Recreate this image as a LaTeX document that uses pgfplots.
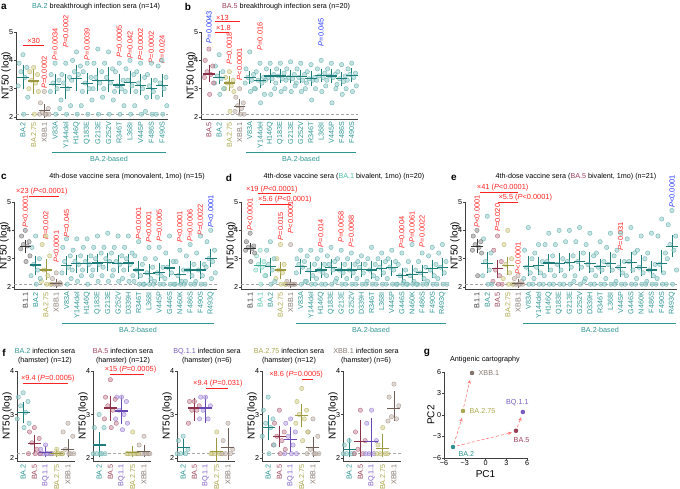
\documentclass[border=0pt]{standalone}
\usepackage{fontspec}
\setmainfont{Liberation Sans}
\usepackage{pgfplots}
\usepackage{pgfplotstable}
\pgfplotsset{compat=1.18}
\usetikzlibrary{arrows.meta}

% text colours
\definecolor{tT}{HTML}{2E9592}\definecolor{oT}{HTML}{ABA74B}\definecolor{gT}{HTML}{857870}
\definecolor{mT}{HTML}{9A4058}\definecolor{kT}{HTML}{333333}\definecolor{pT}{HTML}{7A5CC4}
\definecolor{lT}{HTML}{4FBFA8}
% mean colours
\definecolor{tM}{HTML}{1E7D7A}\definecolor{oM}{HTML}{9C9840}\definecolor{gM}{HTML}{6E5E56}
\definecolor{mM}{HTML}{8A3048}\definecolor{kM}{HTML}{333333}\definecolor{pM}{HTML}{6A48B4}
\definecolor{lM}{HTML}{3FAE98}
% dot edge / fill
\definecolor{tE}{HTML}{5AAAA7}\definecolor{tF}{HTML}{9FD0CE}
\definecolor{oE}{HTML}{B5B060}\definecolor{oF}{HTML}{D8D59A}
\definecolor{gE}{HTML}{A09088}\definecolor{gF}{HTML}{C9BDB6}
\definecolor{mE}{HTML}{A8566C}\definecolor{mF}{HTML}{CF9AA8}
\definecolor{kE}{HTML}{666666}\definecolor{kF}{HTML}{9A9A9A}
\definecolor{pE}{HTML}{8F73CC}\definecolor{pF}{HTML}{BCAAE6}
\definecolor{lE}{HTML}{6CC9B5}\definecolor{lF}{HTML}{B2E3D8}
\definecolor{pR}{HTML}{FF2222}\definecolor{pB}{HTML}{2233FF}

\newcommand\fs{\fontsize{7.2}{8.6}\selectfont}
\newcommand\pvf{\fontsize{7.4}{8}\selectfont}
\newcommand\Lt[1]{\textcolor{tT}{#1}}

\tikzset{pvs/.style={rotate=90, anchor=west, inner sep=0pt, font=\pvf}}

\pgfplotsset{
  base/.style={
    scale only axis, clip=false, anchor=south west,
    axis x line*=bottom, axis y line*=left,
    axis line style={line width=0.55pt, black!75},
    every tick/.style={line width=0.5pt, black!75},
    tick align=outside, major tick length=1.8pt,
    tick label style={font=\fs, inner sep=0.8pt},
    label style={font=\fs},
    ylabel near ticks, ylabel style={inner sep=0pt}, ylabel shift=-2.5pt,
    /pgf/number format/assume math mode=true,
  },
  nt/.style={base, xtick style={draw=none}, xticklabel style={rotate=90, anchor=east},
     ymin=1.92, ymax=5, ytick={2,3,4,5}, y=28.33pt, ylabel={NT50 (log)}},
  ntf/.style={base, xtick style={draw=none}, xticklabel style={rotate=90, anchor=east},
     ymin=1.92, ymax=4, ytick={2,3,4}, y=43.5pt, x=11.2pt, xmin=-0.55, xmax=4.6,
     xtick={0,...,4},
     xticklabels={\textcolor{tT}{BA.2},\textcolor{mT}{BA.5},\textcolor{pT}{BQ.1.1},\textcolor{oT}{BA.2.75},\textcolor{gT}{XBB.1}},
     ylabel={NT50 (log)}},
  dots/.style={only marks, scatter, scatter src=explicit symbolic, mark size=2.2pt,
     scatter/classes={
       t={mark=*, draw=tE, fill=tF, fill opacity=0.6, draw opacity=0.8},
       o={mark=*, draw=oE, fill=oF, fill opacity=0.6, draw opacity=0.8},
       g={mark=*, draw=gE, fill=gF, fill opacity=0.6, draw opacity=0.8},
       m={mark=*, draw=mE, fill=mF, fill opacity=0.6, draw opacity=0.8},
       k={mark=*, draw=kE, fill=kF, fill opacity=0.6, draw opacity=0.8},
       p={mark=*, draw=pE, fill=pF, fill opacity=0.6, draw opacity=0.8},
       l={mark=*, draw=lE, fill=lF, fill opacity=0.6, draw opacity=0.8}}},
}

% #1 table, #2 horizontal spread factor
\newcommand\dotset[2]{%
  \addplot[dots] table[x expr=\thisrow{x}, y=d1, meta=c]{#1};
  \addplot[dots] table[x expr=\thisrow{x}-0.27*#2, y=d2, meta=c]{#1};
  \addplot[dots] table[x expr=\thisrow{x}+0.27*#2, y=d3, meta=c]{#1};
  \addplot[dots] table[x expr=\thisrow{x}-0.14*#2, y=d4, meta=c]{#1};
  \addplot[dots] table[x expr=\thisrow{x}+0.14*#2, y=d5, meta=c]{#1};
  \addplot[dots] table[x expr=\thisrow{x}-0.33*#2, y=d6, meta=c]{#1};
  \addplot[dots] table[x expr=\thisrow{x}+0.33*#2, y=d7, meta=c]{#1};
  \addplot[dots] table[x expr=\thisrow{x}+0.05*#2, y=d8, meta=c]{#1};
}
\newcommand\msz{5.8pt}
\newcommand\csz{3.4pt}
% #1 table, #2 x range (a:b), #3 colour
\newcommand\meanset[3]{%
  \addplot[only marks, mark=-, mark size=\msz, color=#3, mark options={line width=1.2pt, color=#3},
    restrict x to domain=#2,
    error bars/.cd, y dir=both, y explicit,
    error bar style={line width=0.75pt, color=#3},
    error mark options={line width=0.75pt, color=#3, mark size=\csz}]
    table[x=x, y=m, y error plus=ep, y error minus=em]{#1};
}
\newcommand\pv[3]{\node[pvs,text=pR] at (axis cs:#1,#2) {{\itshape P}#3};}
\newcommand\pvb[3]{\node[pvs,text=pB] at (axis cs:#1,#2) {{\itshape P}#3};}
\newcommand\brk[6]{%
  \draw[pR, line width=0.5pt] (axis cs:#1,#3) -- (axis cs:#2,#3);
  \node[text=pR, font=\pvf, anchor=#5, inner sep=0.8pt] at (axis cs:#4,#3) {#6};}

% ---------------- data: x mean err+ err- class dots ----------------
\pgfplotstableread{
x m ep em c d1 d2 d3 d4 d5 d6 d7 d8
0 3.40 0.33 0.30 t 4.2 3.9 3.75 3.6 3.4 3.1 2.7 2.1
1 3.27 0.32 0.32 o 3.75 3.6 3.5 3.3 3.2 3.0 2.9 2.1
2 2.22 0.12 0.12 g 2.9 2.5 2.3 2.15 2.1 2.1 2.1 2.1
3 3.15 0.25 0.20 t 3.9 3.5 3.3 3.2 3.0 2.9 2.3 2.1
4 3.05 0.35 0.30 t 3.9 3.5 3.4 3.2 3.0 2.6 2.4 2.1
5 3.37 0.33 0.32 t 4.3 4.0 3.8 3.6 3.5 3.3 2.4 2.1
6 3.17 0.28 0.22 t 3.9 3.6 3.4 3.2 3.0 2.9 2.6 2.1
7 3.30 0.30 0.25 t 4.4 3.9 3.6 3.4 3.2 3.0 2.7 2.1
8 3.30 0.35 0.30 t 4.3 3.9 3.7 3.4 3.2 3.0 2.6 2.1
9 3.13 0.27 0.18 t 3.9 3.6 3.3 3.1 3.0 2.9 2.4 2.1
10 3.23 0.27 0.28 t 4.0 3.7 3.5 3.3 3.1 2.9 2.4 2.1
11 3.12 0.28 0.22 t 3.9 3.6 3.4 3.2 3.0 2.9 2.2 2.1
12 3.00 0.25 0.25 t 3.9 3.5 3.3 3.1 2.9 2.7 2.1 2.1
13 3.12 0.28 0.28 t 4.0 3.8 3.4 3.2 3.0 2.7 2.4 2.1
}\tA
\pgfplotstableread{
x m ep em c d1 d2 d3 d4 d5 d6 d7 d8
0 3.52 0.20 0.17 m 4.4 4.0 3.8 3.6 3.5 3.4 3.2 2.8
1 3.40 0.10 0.12 t 4.2 3.8 3.6 3.45 3.35 3.2 3.0 2.8
2 3.20 0.12 0.15 o 3.6 3.4 3.3 3.2 3.1 3.0 2.9 2.2
3 2.38 0.15 0.20 g 3.0 2.7 2.5 2.4 2.3 2.2 2.1 2.1
4 3.40 0.12 0.12 t 4.3 3.7 3.5 3.4 3.3 3.2 3.0 2.9
5 3.28 0.15 0.15 t 3.9 3.6 3.4 3.3 3.2 3.0 2.8 2.5
6 3.45 0.13 0.13 t 3.9 3.7 3.5 3.4 3.35 3.3 3.0 2.8
7 3.45 0.13 0.13 t 3.9 3.7 3.55 3.45 3.35 3.2 3.0 2.9
8 3.43 0.12 0.12 t 3.95 3.7 3.5 3.4 3.35 3.3 3.1 2.9
9 3.43 0.12 0.12 t 3.9 3.7 3.5 3.4 3.3 3.2 3.0 2.9
10 3.37 0.12 0.15 t 3.85 3.6 3.4 3.35 3.3 3.2 3.0 2.6
11 3.47 0.12 0.12 t 4.0 3.7 3.55 3.45 3.4 3.3 3.1 2.9
12 3.45 0.12 0.12 t 3.9 3.7 3.5 3.45 3.4 3.3 3.0 2.5
13 3.35 0.12 0.12 t 3.85 3.6 3.45 3.35 3.25 3.15 3.0 2.8
14 3.48 0.12 0.12 t 3.9 3.7 3.55 3.5 3.4 3.3 3.1 2.9
}\tB
\pgfplotstableread{
x m ep em c d1 d2 d3 d4 d5 d6 d7 d8
0 3.42 0.12 0.10 k 4.0 3.8 3.6 3.5 3.45 3.35 3.1 2.9
1 2.78 0.20 0.25 t 3.8 3.4 3.0 2.8 2.6 2.4 2.3 2.1
2 2.60 0.28 0.22 o 3.8 3.5 3.1 2.6 2.4 2.2 2.1 2.1
3 2.12 0.05 0.03 g 2.5 2.3 2.15 2.1 2.1 2.1 2.1 2.1
4 2.75 0.22 0.20 t 3.7 3.4 3.1 2.9 2.7 2.5 2.3 2.1
5 2.82 0.18 0.20 t 3.7 3.3 3.1 2.9 2.8 2.6 2.4 2.2
6 2.82 0.20 0.20 t 3.7 3.4 3.1 2.9 2.8 2.6 2.4 2.1
7 2.85 0.20 0.20 t 3.8 3.4 3.2 3.0 2.8 2.6 2.4 2.2
8 2.88 0.20 0.20 t 3.9 3.4 3.2 3.0 2.9 2.7 2.4 2.2
9 2.82 0.20 0.20 t 3.8 3.4 3.1 2.9 2.8 2.6 2.3 2.2
10 2.85 0.20 0.20 t 3.8 3.4 3.2 3.0 2.8 2.6 2.4 2.2
11 2.60 0.20 0.20 t 3.6 3.1 2.8 2.6 2.4 2.2 2.1 2.1
12 2.48 0.20 0.20 t 3.4 3.0 2.7 2.5 2.3 2.1 2.1 2.1
13 2.52 0.20 0.20 t 3.4 3.0 2.7 2.5 2.4 2.2 2.1 2.1
14 2.67 0.20 0.20 t 3.8 3.2 2.9 2.7 2.5 2.3 2.1 2.1
15 2.43 0.20 0.20 t 3.3 2.9 2.6 2.4 2.2 2.1 2.1 2.1
16 2.60 0.20 0.20 t 3.5 3.1 2.8 2.6 2.4 2.2 2.1 2.1
17 2.60 0.20 0.20 t 3.8 3.2 2.8 2.6 2.4 2.2 2.1 2.1
18 3.02 0.20 0.20 t 4.0 3.6 3.3 3.0 2.9 2.7 2.5 2.3
}\tC
\pgfplotstableread{
x m ep em c d1 d2 d3 d4 d5 d6 d7 d8
0 3.35 0.08 0.08 k 3.9 3.6 3.45 3.4 3.35 3.3 3.2 2.9
1 2.75 0.15 0.15 l 3.3 3.1 2.9 2.8 2.7 2.6 2.4 2.1
2 2.72 0.20 0.20 t 3.6 3.3 3.0 2.8 2.6 2.4 2.2 2.1
3 2.60 0.15 0.20 o 3.5 3.0 2.8 2.6 2.5 2.3 2.1 2.1
4 2.10 0.08 0.02 g 3.5 2.2 2.1 2.1 2.1 2.1 2.1 2.1
5 2.72 0.15 0.15 t 3.3 3.0 2.9 2.8 2.7 2.5 2.2 2.1
6 2.55 0.20 0.20 t 3.3 3.1 2.8 2.6 2.4 2.2 2.1 2.1
7 2.60 0.15 0.15 t 3.3 3.0 2.8 2.6 2.5 2.3 2.1 2.1
8 2.70 0.17 0.17 t 3.4 3.1 2.9 2.8 2.6 2.4 2.2 2.1
9 2.60 0.15 0.15 t 3.3 3.0 2.8 2.6 2.5 2.3 2.1 2.1
10 2.60 0.15 0.15 t 3.2 3.0 2.8 2.6 2.5 2.3 2.1 2.1
11 2.62 0.15 0.15 t 3.1 2.9 2.8 2.7 2.5 2.3 2.1 2.1
12 2.60 0.20 0.20 t 3.4 3.0 2.8 2.6 2.4 2.2 2.1 2.1
13 2.65 0.18 0.18 t 3.2 3.0 2.9 2.7 2.5 2.3 2.1 2.1
14 2.68 0.17 0.17 t 3.3 3.0 2.9 2.7 2.6 2.3 2.1 2.1
15 2.40 0.15 0.15 t 3.2 2.8 2.6 2.4 2.2 2.1 2.1 2.1
16 2.45 0.20 0.15 t 3.5 2.9 2.6 2.4 2.2 2.1 2.1 2.1
17 2.50 0.15 0.15 t 3.2 2.9 2.7 2.5 2.3 2.1 2.1 2.1
18 2.65 0.20 0.20 t 3.4 3.1 2.8 2.6 2.4 2.2 2.1 2.1
19 2.70 0.20 0.20 t 3.5 3.2 2.9 2.7 2.5 2.3 2.1 2.1
}\tD
\pgfplotstableread{
x m ep em c d1 d2 d3 d4 d5 d6 d7 d8
0 3.42 0.15 0.10 k 4.0 3.8 3.6 3.5 3.4 3.3 3.2 2.4
1 2.82 0.30 0.20 t 4.5 3.7 3.2 2.9 2.6 2.4 2.1 2.1
2 2.65 0.20 0.20 m 3.8 3.3 2.9 2.6 2.4 2.2 2.1 2.1
3 2.75 0.20 0.20 o 4.0 3.5 3.0 2.8 2.5 2.3 2.1 2.1
4 2.12 0.05 0.03 g 2.4 2.3 2.2 2.1 2.1 2.1 2.1 2.1
5 2.72 0.25 0.20 t 4.1 3.3 3.0 2.7 2.5 2.3 2.1 2.1
6 2.75 0.20 0.20 t 3.5 3.2 2.9 2.7 2.5 2.3 2.1 2.1
7 2.85 0.20 0.20 t 3.9 3.5 3.1 2.9 2.6 2.4 2.1 2.1
8 2.82 0.25 0.20 t 4.0 3.5 3.0 2.8 2.6 2.4 2.1 2.1
9 2.87 0.20 0.20 t 4.0 3.6 3.1 2.9 2.7 2.4 2.2 2.1
10 2.90 0.25 0.20 t 4.1 3.6 3.2 2.9 2.7 2.4 2.2 2.1
11 2.82 0.30 0.20 t 3.9 3.5 3.1 2.8 2.6 2.3 2.1 2.1
12 2.72 0.15 0.15 t 3.6 3.2 2.9 2.7 2.6 2.4 2.1 2.1
13 2.82 0.30 0.20 t 3.9 3.4 3.1 2.8 2.6 2.3 2.1 2.1
14 2.68 0.20 0.20 t 3.9 3.3 2.9 2.7 2.5 2.2 2.1 2.1
15 2.88 0.25 0.25 t 4.1 3.7 3.2 2.9 2.6 2.4 2.1 2.1
16 2.70 0.30 0.20 t 3.8 3.3 3.0 2.7 2.5 2.3 2.1 2.1
17 2.60 0.20 0.15 t 3.9 3.2 2.8 2.6 2.4 2.2 2.1 2.1
18 2.82 0.35 0.20 t 4.4 3.8 3.2 2.8 2.5 2.3 2.1 2.1
19 3.42 0.30 0.25 t 4.7 4.2 3.8 3.5 3.3 3.0 2.6 2.1
}\tE
\pgfplotstableread{
x m ep em c d1 d2 d3 d4 d5 d6 d7 d8
0 3.05 0.15 0.15 t 3.5 3.4 3.3 3.2 3.05 2.9 2.8 2.7
1 2.33 0.12 0.12 m 2.7 2.6 2.45 2.35 2.2 2.1 2.1 2.1
2 2.13 0.05 0.03 p 2.3 2.2 2.1 2.1 2.1 2.1 2.1 2.1
3 2.10 0.03 0.00 o 2.2 2.1 2.1 2.1 2.1 2.1 2.1 2.1
4 2.20 0.15 0.10 g 2.8 2.6 2.5 2.2 2.1 2.1 2.1 2.1
}\tFa
\pgfplotstableread{
x m ep em c d1 d2 d3 d4 d5 d6 d7 d8
0 2.30 0.20 0.20 t 3.0 2.7 2.7 2.1 2.1 2.1 2.1 2.1
1 3.15 0.20 0.20 m 3.8 3.4 3.35 3.2 3.1 2.9 2.8 2.7
2 3.08 0.25 0.20 p 3.4 3.4 3.3 3.1 3.0 2.9 2.8 2.65
3 2.12 0.08 0.02 o 2.6 2.1 2.1 2.1 2.1 2.1 2.1 2.1
4 2.15 0.07 0.05 g 2.5 2.3 2.1 2.1 2.1 2.1 2.1 2.1
}\tFb
\pgfplotstableread{
x m ep em c d1 d2 d3 d4 d5 d6 d7 d8
0 2.25 0.10 0.10 t 2.5 2.4 2.2 2.1 2.1 2.1 nan nan
1 3.15 0.15 0.20 m 3.3 3.3 3.2 3.1 3.1 2.8 nan nan
2 3.15 0.20 0.25 p 3.4 3.4 3.2 3.1 2.9 2.9 nan nan
3 2.15 0.22 0.15 o 2.6 2.1 2.1 2.1 2.1 2.1 nan nan
4 2.25 0.35 0.20 g 2.8 2.4 2.2 2.1 2.1 2.1 nan nan
}\tFc
\pgfplotstableread{
x m ep em c d1 d2 d3 d4 d5 d6 d7 d8
0 2.70 0.20 0.20 t 3.4 3.1 2.9 2.8 2.7 2.5 2.3 2.1
1 2.50 0.15 0.15 m 3.1 2.8 2.6 2.5 2.4 2.3 2.2 2.1
2 2.42 0.20 0.20 p 2.9 2.8 2.6 2.5 2.3 2.1 2.1 2.1
3 2.97 0.18 0.18 o 3.6 3.3 3.1 3.0 2.9 2.8 2.6 2.4
4 2.25 0.15 0.15 g 2.9 2.6 2.5 2.2 2.1 2.1 2.1 2.1
}\tFd
\pgfplotstableread{
x m ep em c d1 d2 d3 d4 d5 d6 d7 d8
0 2.20 0.18 0.10 t 2.4 2.3 2.1 2.1 2.1 2.1 nan nan
1 2.38 0.40 0.28 m 3.1 2.6 2.4 2.2 2.1 2.1 nan nan
2 2.38 0.45 0.28 p 3.1 2.8 2.4 2.1 2.1 2.1 nan nan
3 2.22 0.25 0.12 o 2.7 2.3 2.1 2.1 2.1 2.1 nan nan
4 3.13 0.32 0.20 g 3.7 3.4 3.2 2.95 2.9 2.85 nan nan
}\tFe

\newcommand\fmeans[1]{\meanset{#1}{0:0}{tM}\meanset{#1}{1:1}{mM}\meanset{#1}{2:2}{pM}\meanset{#1}{3:3}{oM}\meanset{#1}{4:4}{gM}}

\begin{document}
\begin{tikzpicture}
\path[use as bounding box] (0pt,0pt) rectangle (680pt,-488pt);

% ======== panel a ========
\node[font=\bfseries\fontsize{10}{10}\selectfont] at (4pt,-7pt) {a};
\node[font=\fs] at (96pt,-7pt) {\textcolor{tT}{BA.2} breakthrough infection sera (n=14)};
\begin{axis}[nt, at={(16pt,-119.3pt)}, x=10.7pt, xmin=-0.65, xmax=13.6, xtick={0,...,13},
  xticklabels={\Lt{BA.2},\textcolor{oT}{BA.2.75},\textcolor{gT}{XBB.1},\Lt{V83A},\Lt{Y144del},\Lt{H146Q},\Lt{Q183E},\Lt{G213E},\Lt{G252V},\Lt{R346T},\Lt{L368I},\Lt{V445P},\Lt{F486S},\Lt{F490S}}]
\addplot[densely dashed, black!35, line width=0.4pt] coordinates {(-0.65,2.1) (13.6,2.1)};
\dotset{\tA}{1.35}
\meanset{\tA}{0:0}{tM}\meanset{\tA}{3:13}{tM}\meanset{\tA}{1:1}{oM}\meanset{\tA}{2:2}{gM}
\brk{0}{2}{4.55}{1}{south}{×30}
\pv{2}{3.0}{=0.0002}\pv{3}{4.0}{=0.0034}\pv{4}{4.45}{=0.0002}\pv{6}{4.0}{=0.0039}
\pv{9}{4.1}{=0.0005}\pv{10}{4.05}{=0.042}\pv{11}{4.0}{=0.0002}\pv{12}{3.9}{=0.0002}\pv{13}{3.9}{=0.024}
\end{axis}
\draw[tT, line width=0.5pt] (52pt,-152pt) -- (166pt,-152pt);
\node[font=\fs, text=tT] at (109pt,-159pt) {BA.2-based};

% ======== panel b ========
\node[font=\bfseries\fontsize{10}{10}\selectfont] at (188pt,-7pt) {b};
\node[font=\fs] at (286pt,-7pt) {\textcolor{mT}{BA.5} breakthrough infection sera (n=20)};
\begin{axis}[nt, at={(201pt,-119.3pt)}, x=10.2pt, xmin=-0.78, xmax=14.6, xtick={0,...,14},
  xticklabels={\textcolor{mT}{BA.5},\Lt{BA.2},\textcolor{oT}{BA.2.75},\textcolor{gT}{XBB.1},\Lt{V83A},\Lt{Y144del},\Lt{H146Q},\Lt{Q183E},\Lt{G213E},\Lt{G252V},\Lt{R346T},\Lt{L368I},\Lt{V445P},\Lt{F486S},\Lt{F490S}}]
\addplot[densely dashed, black!35, line width=0.4pt] coordinates {(-0.78,2.1) (14.6,2.1)};
\dotset{\tB}{1.35}
\meanset{\tB}{0:0}{mM}\meanset{\tB}{1:1}{tM}\meanset{\tB}{4:14}{tM}\meanset{\tB}{2:2}{oM}\meanset{\tB}{3:3}{gM}
\brk{0.6}{3}{5.37}{0.6}{south west}{×13}
\brk{0.6}{2}{5.0}{0.6}{south west}{×1.8}
\pvb{0}{4.6}{=0.0043}\pv{2}{3.85}{=0.0018}\pv{3}{3.3}{<0.0001}\pv{5}{4.35}{=0.016}\pvb{11}{4.5}{=0.045}
\end{axis}
\draw[tT, line width=0.5pt] (246pt,-152pt) -- (356pt,-152pt);
\node[font=\fs, text=tT] at (301pt,-159pt) {BA.2-based};

% ======== panel c ========
\node[font=\bfseries\fontsize{10}{10}\selectfont] at (4pt,-177pt) {c};
\node[font=\fs] at (127pt,-177pt) {4th-dose vaccine sera (monovalent, 1mo) (n=15)};
\begin{axis}[nt, at={(14pt,-289.3pt)}, x=10.3pt, xmin=-1.1, xmax=18.6, xtick={0,...,18},
  xticklabels={\textcolor{kT}{B.1.1},\Lt{BA.2},\textcolor{oT}{BA.2.75},\textcolor{gT}{XBB.1},\Lt{V83A},\Lt{Y144del},\Lt{H146Q},\Lt{Q183E},\Lt{G213E},\Lt{G252V},\Lt{D339H},\Lt{R346T},\Lt{L368I},\Lt{V445P},\Lt{G446S},\Lt{N460K},\Lt{F486S},\Lt{F490S},\Lt{R493Q}}]
\addplot[densely dashed, black!35, line width=0.4pt] coordinates {(-1.1,2.1) (18.6,2.1)};
\dotset{\tC}{1.35}
\meanset{\tC}{0:0}{kM}\meanset{\tC}{1:1}{tM}\meanset{\tC}{4:18}{tM}\meanset{\tC}{2:2}{oM}\meanset{\tC}{3:3}{gM}
\brk{0.4}{3.3}{5.2}{1.6}{south}{×23 ({\itshape P}<0.0001)}
\pv{0}{4.1}{<0.0001}\pv{2}{3.67}{=0.002}\pv{3}{2.85}{<0.0001}\pv{4}{3.75}{=0.045}
\pv{11}{3.67}{<0.0001}\pv{12}{3.55}{<0.0001}\pv{13}{3.6}{=0.0005}\pv{15}{3.55}{<0.0001}
\pv{16}{3.6}{=0.0006}\pv{17}{3.8}{=0.0022}\pvb{18}{4.1}{<0.0001}
\end{axis}
\draw[tT, line width=0.5pt] (62pt,-323pt) -- (214pt,-323pt);
\node[font=\fs, text=tT] at (138pt,-330pt) {BA.2-based};

% ======== panel d ========
\node[font=\bfseries\fontsize{10}{10}\selectfont] at (229pt,-178pt) {d};
\node[font=\fs] at (344pt,-177pt) {4th-dose vaccine sera (\textcolor{lT}{BA.1} bivalent, 1mo) (n=20)};
\begin{axis}[nt, at={(241pt,-289.3pt)}, x=10.12pt, xmin=-0.9, xmax=19.6, xtick={0,...,19},
  xticklabels={\textcolor{kT}{B.1.1},\textcolor{lT}{BA.1},\Lt{BA.2},\textcolor{oT}{BA.2.75},\textcolor{gT}{XBB.1},\Lt{V83A},\Lt{Y144del},\Lt{H146Q},\Lt{Q183E},\Lt{G213E},\Lt{G252V},\Lt{D339H},\Lt{R346T},\Lt{L368I},\Lt{V445P},\Lt{G446S},\Lt{N460K},\Lt{F486S},\Lt{F490S},\Lt{R493Q}}]
\addplot[densely dashed, black!35, line width=0.4pt] coordinates {(-0.9,2.1) (19.6,2.1)};
\dotset{\tD}{1.35}
\meanset{\tD}{0:0}{kM}\meanset{\tD}{1:1}{lM}\meanset{\tD}{2:2}{tM}\meanset{\tD}{5:19}{tM}\meanset{\tD}{3:3}{oM}\meanset{\tD}{4:4}{gM}
\brk{0.8}{4}{5.3}{-0.5}{south west}{×19 ({\itshape P}<0.0001)}
\brk{1}{4}{4.93}{0.7}{south west}{×5.6 ({\itshape P}<0.0001)}
\pv{0}{4.0}{<0.0001}\pv{3}{3.65}{=0.015}\pv{4}{3.9}{<0.0001}\pv{7}{3.4}{=0.014}
\pv{9}{3.55}{=0.0058}\pv{10}{3.4}{=0.0068}\pv{15}{3.35}{=0.0004}\pv{16}{3.55}{=0.0061}\pv{17}{3.4}{=0.0022}
\end{axis}
\draw[tT, line width=0.5pt] (296pt,-323pt) -- (446pt,-323pt);
\node[font=\fs, text=tT] at (371pt,-330pt) {BA.2-based};

% ======== panel e ========
\node[font=\bfseries\fontsize{10}{10}\selectfont] at (454pt,-178pt) {e};
\node[font=\fs] at (576pt,-177pt) {4th-dose vaccine sera (\textcolor{mT}{BA.5} bivalent, 1mo) (n=21)};
\begin{axis}[nt, at={(465pt,-289.3pt)}, x=10.26pt, xmin=-1.17, xmax=19.5, xtick={0,...,19},
  xticklabels={\textcolor{kT}{B.1.1},\Lt{BA.2},\textcolor{mT}{BA.5},\textcolor{oT}{BA.2.75},\textcolor{gT}{XBB.1},\Lt{V83A},\Lt{Y144del},\Lt{H146Q},\Lt{Q183E},\Lt{G213E},\Lt{G252V},\Lt{D339H},\Lt{R346T},\Lt{L368I},\Lt{V445P},\Lt{G446S},\Lt{N460K},\Lt{F486S},\Lt{F490S},\Lt{R493Q}}]
\addplot[densely dashed, black!35, line width=0.4pt] coordinates {(-1.17,2.1) (19.5,2.1)};
\dotset{\tE}{1.35}
\meanset{\tE}{0:0}{kM}\meanset{\tE}{1:1}{tM}\meanset{\tE}{5:19}{tM}\meanset{\tE}{2:2}{mM}\meanset{\tE}{3:3}{oM}\meanset{\tE}{4:4}{gM}
\brk{0.3}{4}{5.35}{-0.1}{south west}{×41 ({\itshape P}<0.0001)}
\brk{2}{4}{5.0}{2}{south west}{×5.5 ({\itshape P}<0.0001)}
\pv{0}{4.1}{<0.0001}\pv{2}{3.95}{=0.020}\pv{4}{2.45}{<0.0001}\pv{14}{3.3}{=0.031}\pvb{19}{4.8}{<0.0001}
\end{axis}
\draw[tT, line width=0.5pt] (523pt,-323pt) -- (676pt,-323pt);
\node[font=\fs, text=tT] at (600pt,-330pt) {BA.2-based};

% ======== panel f ========
\renewcommand\msz{6.5pt}
\renewcommand\csz{3.8pt}
\node[font=\bfseries\fontsize{10}{10}\selectfont] at (4pt,-353pt) {f};
\node[font=\fs, align=center] at (45pt,-356pt) {\textcolor{tT}{BA.2} infection sera\\(hamster) (n=12)};
\node[font=\fs, align=center] at (123pt,-356pt) {\textcolor{mT}{BA.5} infection sera\\(hamster) (n=12)};
\node[font=\fs, align=center] at (207pt,-356pt) {\textcolor{pT}{BQ.1.1} infection sera\\(hamster) (n=6)};
\node[font=\fs, align=center] at (289pt,-356pt) {\textcolor{oT}{BA.2.75} infection sera\\(hamster) (n=12)};
\node[font=\fs, align=center] at (366pt,-356pt) {\textcolor{gT}{XBB.1} infection sera\\(hamster) (n=6)};

\begin{axis}[ntf, at={(17pt,-461.5pt)}]
\addplot[densely dashed, black!35, line width=0.4pt] coordinates {(-0.55,2.1) (4.6,2.1)};
\dotset{\tFa}{1.6}
\fmeans{\tFa}
\brk{0}{4}{3.72}{2.2}{south}{×9.4 ({\itshape P}=0.0005)}
\end{axis}
\begin{axis}[ntf, at={(93pt,-461.5pt)}]
\addplot[densely dashed, black!35, line width=0.4pt] coordinates {(-0.55,2.1) (4.6,2.1)};
\dotset{\tFb}{1.6}
\fmeans{\tFb}
\brk{1}{4}{3.93}{2.8}{south}{×15 ({\itshape P}=0.0005)}
\end{axis}
\begin{axis}[ntf, at={(177pt,-461.5pt)}]
\addplot[densely dashed, black!35, line width=0.4pt] coordinates {(-0.55,2.1) (4.6,2.1)};
\dotset{\tFc}{1.6}
\fmeans{\tFc}
\brk{2}{4}{3.6}{3.1}{south}{×9.4 ({\itshape P}=0.031)}
\end{axis}
\begin{axis}[ntf, at={(262pt,-461.5pt)}]
\addplot[densely dashed, black!35, line width=0.4pt] coordinates {(-0.55,2.1) (4.6,2.1)};
\dotset{\tFd}{1.6}
\fmeans{\tFd}
\brk{3}{4}{3.82}{2.5}{south}{×8.6 ({\itshape P}=0.0005)}
\end{axis}
\begin{axis}[ntf, at={(343pt,-461.5pt)}]
\addplot[densely dashed, black!35, line width=0.4pt] coordinates {(-0.55,2.1) (4.6,2.1)};
\dotset{\tFe}{1.6}
\fmeans{\tFe}
\end{axis}

% ======== panel g ========
\node[font=\bfseries\fontsize{10}{10}\selectfont] at (427pt,-353pt) {g};
\node[font=\fs] at (485pt,-360pt) {Antigenic cartography};
\begin{axis}[base, at={(444pt,-458pt)}, x=6.92pt, y=7.17pt, xmin=-6, xmax=6, ymin=-6, ymax=6,
  xtick={-6,-3,0,3,6}, ytick={-6,-3,0,3,6},
  xticklabels={−6,−3,0,3,6}, yticklabels={−6,−3,0,3,6},
  xlabel={PC1}, ylabel={PC2}, xlabel near ticks]
\addplot[densely dashed, pR!60, line width=0.6pt, -{Stealth[length=4pt,width=3.5pt]}] coordinates {(-4.55,-4.0) (-3.4,-0.4)};
\addplot[densely dashed, pR!60, line width=0.6pt, -{Stealth[length=4pt,width=3.5pt]}] coordinates {(-3.15,1.1) (-2.25,4.9)};
\addplot[densely dashed, pR!60, line width=0.6pt, -{Stealth[length=4pt,width=3.5pt]}] coordinates {(-4.1,-4.3) (3.8,-2.45)};
\addplot[densely dashed, pR!60, line width=0.6pt, -{Stealth[length=4pt,width=3.5pt]}] coordinates {(4.6,-1.7) (5.15,-0.3)};
\addplot[only marks, mark=*, mark size=2pt, draw=tM, fill=tT] coordinates {(-4.7,-4.46)};
\addplot[only marks, mark=*, mark size=2pt, draw=oM, fill=oT] coordinates {(-3.25,0.56)};
\addplot[only marks, mark=*, mark size=2pt, draw=gM, fill=gT] coordinates {(-1.95,5.86)};
\addplot[only marks, mark=*, mark size=2pt, draw=pM, fill=pT] coordinates {(5.4,0.42)};
\addplot[only marks, mark=*, mark size=2pt, draw=mM, fill=mT] coordinates {(4.4,-2.2)};
\node[font=\fs, text=gT, anchor=west] at (axis cs:-1.5,5.86) {XBB.1};
\node[font=\fs, text=oT, anchor=west] at (axis cs:-2.8,0.56) {BA.2.75};
\node[font=\fs, text=pT, anchor=south] at (axis cs:4.6,0.8) {BQ.1.1};
\node[font=\fs, text=mT, anchor=north] at (axis cs:5.2,-2.6) {BA.5};
\node[font=\fs, text=tT, anchor=north west] at (axis cs:-4.4,-4.6) {BA.2};
\end{axis}
\end{tikzpicture}
\end{document}
